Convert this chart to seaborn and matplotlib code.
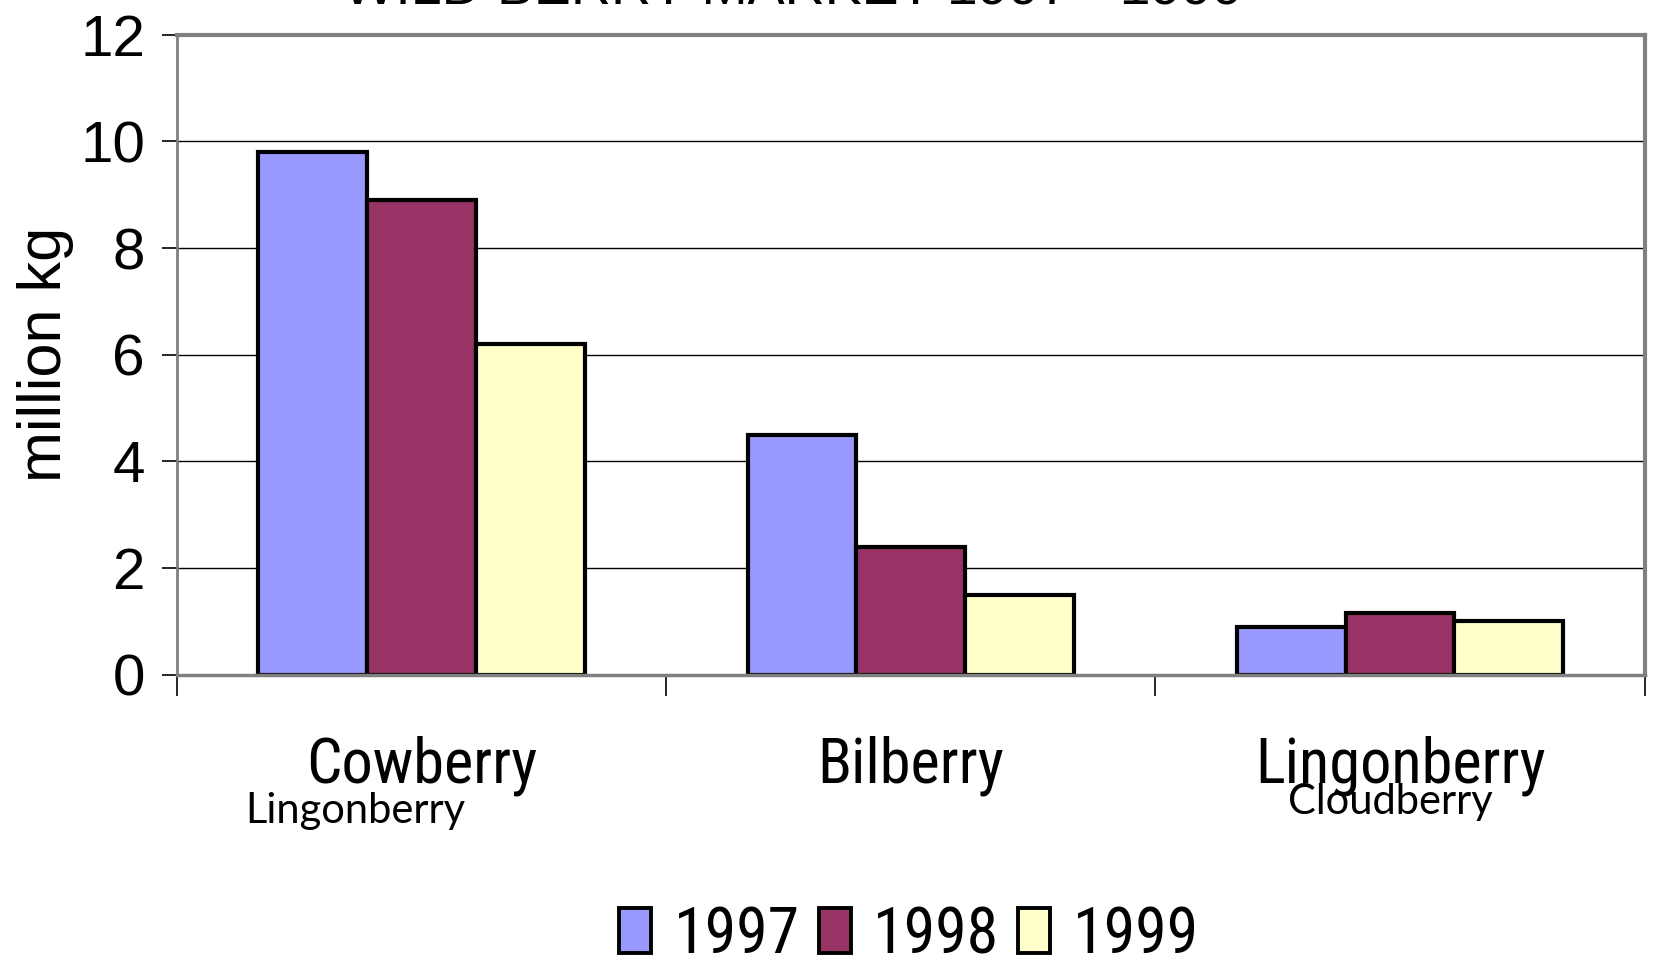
import matplotlib
matplotlib.use("Agg")
import matplotlib.pyplot as plt
from matplotlib import font_manager
from matplotlib.patches import Patch
from matplotlib.ticker import FixedLocator
import seaborn as sns
import pandas as pd

categories = ["Cowberry", "Bilberry", "Lingonberry"]
extra_labels = ["Lingonberry", "", "Cloudberry"]
years = ["1997", "1998", "1999"]
values_1997 = [9.8, 4.5, 0.9]
values_1998 = [8.9, 2.4, 1.15]
values_1999 = [6.2, 1.5, 1.0]
colors = ["#9999FF", "#993366", "#FFFFCC"]
title_text = "WILD BERRY MARKET 1997 - 1999"
ylabel_text = "million kg"
yticks = [0, 2, 4, 6, 8, 10, 12]

names = {f.name for f in font_manager.fontManager.ttflist}
narrow_candidates = ["Liberation Sans Narrow", "DejaVu Sans Condensed", "Roboto Condensed",
                     "Open Sans Condensed"]
narrow = next((n for n in narrow_candidates if n in names), "Liberation Sans")
small_font = "Lato" if "Lato" in names else "DejaVu Sans"

rows = []
for i, (a, b, c) in enumerate(zip(values_1997, values_1998, values_1999)):
    for y, v in zip(years, (a, b, c)):
        rows.append({"pos": i, "year": y, "value": v})
df = pd.DataFrame(rows)

sns.set_style("white")
plt.rcParams["font.family"] = ["Liberation Sans", "DejaVu Sans"]
plt.rcParams["text.color"] = "black"
plt.rcParams["axes.labelcolor"] = "black"
plt.rcParams["xtick.color"] = "black"
plt.rcParams["ytick.color"] = "black"

fig = plt.figure(figsize=(16.53, 9.68), dpi=100)
ax = fig.add_axes([0.107, 0.303, 0.888, 0.661])

sns.barplot(data=df, x="pos", y="value", hue="year", palette=colors,
            edgecolor="black", linewidth=3, width=0.667, gap=0,
            order=[0, 1, 2], hue_order=years, ax=ax, legend=False,
            errorbar=None, saturation=1)

ax.set_xlim(-0.5, 2.5)
ax.set_ylim(0, 12)
ax.set_yticks(yticks)
ax.set_yticklabels([str(t) for t in yticks], fontsize=42)
ax.yaxis.grid(True, color="black", linewidth=1.0)
ax.set_axisbelow(True)

ax.set_xticks([0, 1, 2])
ax.set_xticklabels(categories, fontsize=45, family=[narrow, "Liberation Sans"],
                   fontstretch="condensed")
ax.xaxis.set_minor_locator(FixedLocator([-0.5, 0.5, 1.5, 2.5]))
ax.tick_params(axis="x", which="major", length=0, pad=44)
ax.tick_params(axis="x", which="minor", length=15, width=1.2, color="black", direction="out", bottom=True)
ax.tick_params(axis="y", length=11, width=1.2, color="black", direction="out", left=True, pad=12)

ax.set_xlabel("")
ax.set_ylabel(ylabel_text, fontsize=44, labelpad=4)

for side in ["top", "right", "bottom", "left"]:
    ax.spines[side].set_visible(True)
    ax.spines[side].set_color("#808080")
ax.spines["top"].set_linewidth(3)
ax.spines["right"].set_linewidth(3)
ax.spines["bottom"].set_linewidth(2.5)
ax.spines["left"].set_linewidth(2)

trans = ax.get_xaxis_transform()
offsets = [-0.136, 0, -0.02]
ybases = [-0.231, 0, -0.217]
for i, lab in enumerate(extra_labels):
    if lab:
        ax.text(i + offsets[i], ybases[i], lab, transform=trans, ha="center",
                va="baseline", fontsize=30, family=[small_font, "DejaVu Sans"])

fig.text(0.48, 0.995, title_text, ha="center", va="baseline", fontsize=40)

handles = [Patch(facecolor=c, edgecolor="black", linewidth=2.8) for c in colors]
fig.legend(handles, years, loc="center", bbox_to_anchor=(0.55, 0.034), ncol=3,
           frameon=False,
           prop={"family": [narrow, "Liberation Sans"], "size": 46, "stretch": "condensed"},
           handlelength=0.5, handleheight=0.7, handletextpad=0.35, columnspacing=0.3,
           borderpad=0, borderaxespad=0)

fig.savefig("out.png", dpi=100)
